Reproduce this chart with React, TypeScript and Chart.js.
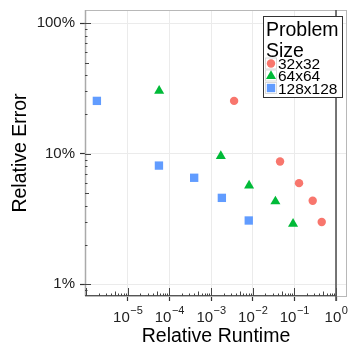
import React, { useEffect, useRef } from "react";
import { Chart, registerables } from "chart.js";

Chart.register(...registerables);

const seriesNames = ["32x32", "64x64", "128x128"];
const seriesColors = ["#F8766D", "#00BA38", "#619CFF"];
const seriesShapes = ["circle", "triangle", "rect"];
const runtime32 = [0.00358, 0.0454, 0.1297, 0.276, 0.454];
const error32 = [0.254, 0.087, 0.0594, 0.0435, 0.0299];
const runtime64 = [5.69e-5, 1.72e-3, 8.2e-3, 0.0351, 0.0931];
const error64 = [0.303, 0.0957, 0.057, 0.043, 0.029];
const runtime128 = [1.82e-6, 5.62e-5, 3.94e-4, 1.82e-3, 8.05e-3];
const error128 = [0.254, 0.081, 0.0653, 0.0458, 0.0307];
const xTickExponents = [-5, -4, -3, -2, -1, 0];
const yTickValues = [0.01, 0.1, 1];
const yTickLabels = ["1%", "10%", "100%"];
const legendTitle = ["Problem", "Size"];
const xTitle = "Relative Runtime";
const yTitle = "Relative Error";
const xMin = 9.44e-7;
const xMax = 1.836;
const yMin = 0.00809;
const yMax = 1.265;
const refLineX = 1;

const FONT = "'Liberation Sans', Arial, sans-serif";

function drawShape(ctx: CanvasRenderingContext2D, shape: string, x: number, y: number, r: number, color: string) {
  ctx.save();
  ctx.fillStyle = color;
  ctx.beginPath();
  if (shape === "circle") {
    ctx.arc(x, y, r, 0, Math.PI * 2);
  } else if (shape === "triangle") {
    ctx.moveTo(x, y - r);
    ctx.lineTo(x + r * 0.866, y + r * 0.5);
    ctx.lineTo(x - r * 0.866, y + r * 0.5);
    ctx.closePath();
  } else {
    const s = r / Math.SQRT2;
    ctx.rect(x - s, y - s, 2 * s, 2 * s);
  }
  ctx.fill();
  ctx.restore();
}

const decorPlugin = {
  id: "decor",
  beforeDatasetsDraw(chart: any) {
    const ctx = chart.ctx as CanvasRenderingContext2D;
    const { left, right, top, bottom } = chart.chartArea;
    const xs = chart.scales.x;
    const ys = chart.scales.y;
    ctx.save();
    // panel border
    ctx.strokeStyle = "#b8b8b8";
    ctx.lineWidth = 1;
    ctx.strokeRect(left + 0.5, top + 0.5, right - left - 1, bottom - top);
    ctx.lineWidth = 1.5;
    ctx.strokeStyle = "#aaaaaa";
    ctx.beginPath();
    ctx.moveTo(left + 0.5, top);
    ctx.lineTo(left + 0.5, bottom);
    ctx.stroke();
    // bottom line up to reference
    const xRef = xs.getPixelForValue(refLineX);
    ctx.strokeStyle = "#555";
    ctx.lineWidth = 1;
    ctx.beginPath();
    ctx.moveTo(left, bottom - 0.5);
    ctx.lineTo(xRef, bottom - 0.5);
    ctx.stroke();
    // log ticks
    ctx.strokeStyle = "#444";
    ctx.lineWidth = 1;
    for (let e = -7; e <= 1; e++) {
      for (let m = 1; m <= 9; m++) {
        const v = m * Math.pow(10, e);
        const len = m === 1 ? 8 : m === 5 ? 4.5 : 2.5;
        if (v >= xMin * 0.999 && v <= xMax) {
          const px = Math.round(xs.getPixelForValue(v)) + 0.5;
          ctx.beginPath();
          ctx.moveTo(px, bottom);
          ctx.lineTo(px, bottom - len);
          ctx.stroke();
        }
        if (v >= yMin && v <= yMax) {
          const py = Math.round(ys.getPixelForValue(v)) + 0.5;
          const l2 = m === 1 ? 6 : m === 5 ? 4 : 2.5;
          ctx.beginPath();
          ctx.moveTo(left, py);
          ctx.lineTo(left + l2, py);
          ctx.stroke();
        }
      }
    }
    // vertical reference line at x = 1
    ctx.strokeStyle = "#555";
    ctx.lineWidth = 1.6;
    ctx.beginPath();
    ctx.moveTo(xRef, top);
    ctx.lineTo(xRef, bottom + 5);
    ctx.stroke();
    ctx.restore();
  },
  afterDraw(chart: any) {
    const ctx = chart.ctx as CanvasRenderingContext2D;
    const xs = chart.scales.x;
    // x tick labels with superscripts
    ctx.save();
    ctx.fillStyle = "#222";
    ctx.textBaseline = "alphabetic";
    ctx.textAlign = "left";
    xTickExponents.forEach((ex) => {
      const px = xs.getPixelForValue(Math.pow(10, ex));
      const base = "10";
      const sup = ex < 0 ? "\u2212" + Math.abs(ex) : String(ex);
      ctx.font = `15px ${FONT}`;
      const w1 = ctx.measureText(base).width;
      ctx.font = `11px ${FONT}`;
      const w2 = ctx.measureText(sup).width;
      const x0 = px - (w1 + w2) / 2;
      ctx.font = `15px ${FONT}`;
      ctx.fillText(base, x0, 322);
      ctx.font = `11px ${FONT}`;
      ctx.fillText(sup, x0 + w1 + 0.5, 314);
    });
    // legend
    const bx = 263, by = 16, bw = 79, bh = 81;
    ctx.fillStyle = "#ffffff";
    ctx.fillRect(bx, by, bw, bh);
    ctx.strokeStyle = "#333";
    ctx.lineWidth = 1;
    ctx.strokeRect(bx + 0.5, by + 0.5, bw, bh);
    ctx.fillStyle = "#000";
    ctx.font = `19.5px ${FONT}`;
    ctx.fillText(legendTitle[0], 266, 36);
    ctx.fillText(legendTitle[1], 266, 56.5);
    const rowY = [63.5, 75.5, 88];
    chart.data.datasets.forEach((ds: any, i: number) => {
      const cy = rowY[i];
      ctx.strokeStyle = "#d9d9d9";
      ctx.lineWidth = 1;
      ctx.strokeRect(265.5, cy - 5.5, 11, 11);
      drawShape(ctx, seriesShapes[i], 271, cy + (seriesShapes[i] === "triangle" ? 0.5 : 0), seriesShapes[i] === "triangle" ? 5.8 : seriesShapes[i] === "rect" ? 5.9 : 4.2, seriesColors[i]);
      ctx.fillStyle = "#000";
      ctx.font = `15.5px ${FONT}`;
      ctx.fillText(ds.label, 278, cy + 5.7);
    });
    ctx.restore();
  },
};

export default function App() {
  const ref = useRef<HTMLCanvasElement | null>(null);
  useEffect(() => {
    if (!ref.current) return;
    const mk = (xs: number[], ys: number[]) => xs.map((x, i) => ({ x, y: ys[i] }));
    const datasets = [
      { label: seriesNames[0], data: mk(runtime32, error32), pointStyle: seriesShapes[0], pointRadius: 4.2 },
      { label: seriesNames[1], data: mk(runtime64, error64), pointStyle: seriesShapes[1], pointRadius: 5.8 },
      { label: seriesNames[2], data: mk(runtime128, error128), pointStyle: seriesShapes[2], pointRadius: 5.9 },
    ].map((d, i) => ({
      ...d,
      backgroundColor: seriesColors[i],
      borderColor: seriesColors[i],
      borderWidth: 0,
      pointHoverRadius: d.pointRadius,
      showLine: false,
    }));
    const chart = new Chart(ref.current, {
      type: "scatter",
      data: { datasets },
      options: {
        responsive: false,
        animation: false,
        events: [],
        layout: { padding: { top: 10, right: 11, left: 0, bottom: 0 } },
        plugins: { legend: { display: false }, tooltip: { enabled: false } },
        scales: {
          x: {
            type: "logarithmic",
            min: xMin,
            max: xMax,
            border: { display: false },
            grid: { color: "#ebebeb", lineWidth: 1, drawTicks: true, tickLength: 5, tickColor: "#333", tickWidth: 1.2 },
            ticks: { display: false, autoSkip: false },
            afterBuildTicks: (s: any) => {
              s.ticks = xTickExponents.map((e) => ({ value: Math.pow(10, e) }));
            },
            afterFit: (s: any) => {
              s.height = 62;
              s.paddingLeft = 0;
              s.paddingRight = 0;
            },
            title: {
              display: true,
              text: xTitle,
              color: "#000",
              font: { family: FONT, size: 19.5 },
              padding: { top: 0, bottom: 10 },
            },
          },
          y: {
            type: "logarithmic",
            min: yMin,
            max: yMax,
            border: { display: false },
            grid: { color: "#ebebeb", lineWidth: 1, drawTicks: true, tickLength: 5, tickColor: "#333", tickWidth: 1.2 },
            ticks: {
              autoSkip: false,
              padding: 5,
              color: "#222",
              font: { family: FONT, size: 15 },
              callback: (v: any) => {
                const i = yTickValues.findIndex((t) => Math.abs(t - v) / t < 1e-6);
                return i >= 0 ? yTickLabels[i] : "";
              },
            },
            afterBuildTicks: (s: any) => {
              s.ticks = yTickValues.map((v) => ({ value: v }));
            },
            afterFit: (s: any) => {
              s.width = 85;
              s.paddingTop = 0;
              s.paddingBottom = 0;
            },
            title: {
              display: true,
              text: yTitle,
              color: "#000",
              font: { family: FONT, size: 19.5 },
              padding: { top: 9, bottom: 0 },
            },
          },
        },
      },
      plugins: [decorPlugin],
    } as any);
    return () => chart.destroy();
  }, []);
  return (
    <div style={{ position: "fixed", left: 0, top: 0, width: 358, height: 358, background: "#fff" }}>
      <canvas ref={ref} width={358} height={358} />
    </div>
  );
}
